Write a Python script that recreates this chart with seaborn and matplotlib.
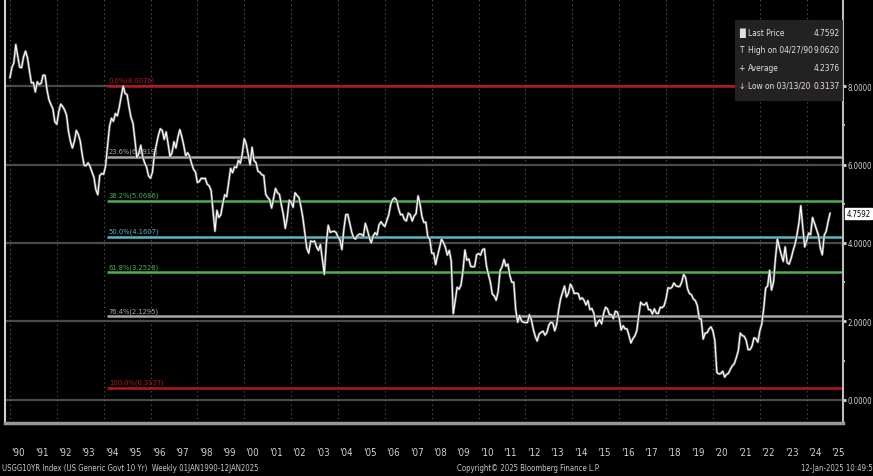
import matplotlib
matplotlib.use("Agg")
import matplotlib.pyplot as plt
import matplotlib.transforms as mtransforms
from matplotlib.patches import Rectangle
import seaborn as sns
import pandas as pd

sns.set_style("dark")
plt.rcParams['font.family'] = ['DejaVu Sans']
plt.rcParams['font.stretch'] = 'condensed'

# US Generic Govt 10 Yr, approx. monthly levels (Jan 1990 .. Jan 2025)
yields_10y = [
    8.21, 8.47, 8.59, 9.06, 8.76, 8.48, 8.47, 8.75, 8.89, 8.72, 8.39, 8.08,  # 1990
    8.09, 7.85, 8.11, 8.04, 8.07, 8.28, 8.27, 7.90, 7.65, 7.53, 7.42, 7.09,  # 1991
    7.03, 7.34, 7.54, 7.48, 7.39, 7.26, 6.84, 6.59, 6.42, 6.59, 6.87, 6.77,  # 1992
    6.60, 6.26, 5.98, 5.97, 6.04, 5.96, 5.81, 5.68, 5.36, 5.23, 5.72, 5.77,  # 1993
    5.75, 5.97, 6.48, 6.97, 7.18, 7.10, 7.30, 7.24, 7.46, 7.74, 8.00, 7.81,  # 1994
    7.78, 7.47, 7.20, 7.06, 6.63, 6.17, 6.28, 6.49, 6.20, 6.04, 5.93, 5.71,  # 1995
    5.65, 5.81, 6.27, 6.51, 6.74, 6.91, 6.87, 6.64, 6.83, 6.53, 6.20, 6.30,  # 1996
    6.58, 6.42, 6.69, 6.89, 6.71, 6.49, 6.22, 6.30, 6.21, 6.03, 5.88, 5.81,  # 1997
    5.54, 5.57, 5.65, 5.64, 5.65, 5.50, 5.46, 5.34, 4.81, 4.30, 4.83, 4.65,  # 1998
    4.72, 5.00, 5.23, 5.18, 5.54, 5.90, 5.79, 5.94, 5.92, 6.11, 6.03, 6.28,  # 1999
    6.66, 6.52, 6.26, 5.99, 6.44, 6.10, 6.05, 5.83, 5.80, 5.74, 5.72, 5.24,  # 2000
    5.16, 5.10, 4.89, 5.14, 5.39, 5.28, 5.24, 4.97, 4.73, 4.37, 4.65, 5.09,  # 2001
    5.04, 4.91, 5.28, 5.21, 5.16, 4.93, 4.65, 4.26, 3.87, 3.74, 4.05, 4.03,  # 2002
    4.05, 3.90, 3.81, 3.96, 3.57, 3.20, 3.98, 4.45, 4.27, 4.29, 4.30, 4.27,  # 2003
    4.15, 4.08, 3.83, 4.35, 4.72, 4.73, 4.50, 4.28, 4.13, 4.10, 4.19, 4.23,  # 2004
    4.22, 4.17, 4.50, 4.34, 4.14, 4.00, 4.18, 4.26, 4.20, 4.46, 4.54, 4.47,  # 2005
    4.42, 4.57, 4.72, 4.99, 5.11, 5.15, 5.09, 4.88, 4.72, 4.73, 4.60, 4.56,  # 2006
    4.76, 4.72, 4.56, 4.69, 4.75, 5.20, 5.00, 4.67, 4.52, 4.53, 4.15, 4.10,  # 2007
    3.74, 3.74, 3.45, 3.68, 3.88, 4.10, 4.01, 3.89, 3.69, 3.81, 3.53, 2.20,  # 2008
    2.52, 2.87, 2.82, 2.93, 3.29, 3.82, 3.56, 3.59, 3.40, 3.39, 3.40, 3.70,  # 2009
    3.73, 3.69, 3.83, 3.85, 3.42, 3.20, 3.01, 2.70, 2.65, 2.54, 2.76, 3.29,  # 2010
    3.39, 3.58, 3.41, 3.46, 3.17, 3.00, 3.00, 2.30, 1.98, 2.15, 2.01, 1.98,  # 2011
    1.97, 1.97, 2.17, 2.05, 1.80, 1.62, 1.50, 1.68, 1.72, 1.75, 1.65, 1.72,  # 2012
    1.91, 1.98, 1.96, 1.76, 1.93, 2.30, 2.58, 2.74, 2.90, 2.62, 2.72, 2.95,  # 2013
    2.86, 2.71, 2.72, 2.71, 2.56, 2.60, 2.54, 2.42, 2.53, 2.30, 2.33, 2.21,  # 2014
    1.88, 1.98, 2.04, 1.94, 2.20, 2.36, 2.32, 2.17, 2.17, 2.07, 2.26, 2.24,  # 2015
    2.09, 1.78, 1.89, 1.81, 1.81, 1.64, 1.45, 1.56, 1.63, 1.76, 2.14, 2.49,  # 2016
    2.43, 2.42, 2.48, 2.30, 2.30, 2.19, 2.32, 2.21, 2.20, 2.36, 2.35, 2.40,  # 2017
    2.58, 2.86, 2.84, 2.87, 2.98, 2.91, 2.89, 2.89, 3.00, 3.20, 3.12, 2.83,  # 2018
    2.71, 2.68, 2.57, 2.53, 2.40, 2.07, 2.06, 1.55, 1.70, 1.71, 1.81, 1.86,  # 2019
    1.76, 1.50, 0.70, 0.66, 0.67, 0.73, 0.58, 0.65, 0.68, 0.79, 0.87, 0.93,  # 2020
    1.08, 1.26, 1.70, 1.64, 1.62, 1.52, 1.28, 1.28, 1.37, 1.58, 1.56, 1.47,  # 2021
    1.76, 1.93, 2.33, 2.85, 2.90, 3.30, 2.80, 3.00, 3.60, 4.10, 3.89, 3.70,  # 2022
    3.53, 3.90, 3.50, 3.46, 3.60, 3.80, 3.96, 4.20, 4.50, 4.95, 4.40, 3.90,  # 2023
    4.06, 4.25, 4.21, 4.65, 4.50, 4.35, 4.20, 3.87, 3.70, 4.20, 4.30, 4.55,  # 2024
    4.76,                                                                    # 2025
]
months = pd.date_range("1990-01-01", periods=len(yields_10y), freq="MS")
dec_year = list(months.year + (months.month - 1) / 12)

year_labels = ["'" + f"{y % 100:02d}" for y in range(1990, 2026)]
year_starts = list(range(1990, 2026))

fib_names = ["0.0%", "23.6%", "38.2%", "50.0%", "61.8%", "76.4%", "100.0%"]
fib_levels = [8.0076, 6.1919, 5.0686, 4.1607, 3.2528, 2.1295, 0.3137]
fib_colors = ["#b3191c", "#a8a8a8", "#4fae4f", "#58b8c0", "#4fae4f", "#a8a8a8", "#b3191c"]

stat_names = ["Last Price", "High on 04/27/90", "Average", "Low on 03/13/20"]
stat_values = ["4.7592", "9.0620", "4.2376", "0.3137"]
stat_icons = ["\u2588", "T", "+", "\u2193"]
last_price = 4.7592

W, H = 873, 477
fig = plt.figure(figsize=(W / 100, H / 100), dpi=100, facecolor="black")
ax = fig.add_axes([5 / W, 53 / H, 838 / W, 424 / H])
ax.set_facecolor("black")

XMIN, XMAX = 1989.79, 2025.55
ax.set_xlim(XMIN, XMAX)
ax.set_ylim(-0.59, 10.22)

# grid
for yv in [0, 2, 4, 6, 8]:
    ax.axhline(yv, color="#4a4a4a", lw=1.6, zorder=1)
for yr in range(1990, 2026, 2):
    ax.axvline(yr, color="#5e5e5e", lw=0.8, ls=(0, (1, 3)), zorder=1)

# fibonacci retracement lines
for name, lvl, col in zip(fib_names, fib_levels, fib_colors):
    ax.hlines(lvl, 1994.15, XMAX, color=col, lw=1.8, zorder=2)
    ax.text(1994.22, lvl + 0.07, f"{name}({lvl:.4f})", color=col, fontsize=5.4,
            va="bottom", ha="left", zorder=3)

# price line
sns.lineplot(x=dec_year, y=yields_10y, ax=ax, color="#707070", lw=1.8, zorder=4)
sns.lineplot(x=dec_year, y=yields_10y, ax=ax, color="white", lw=0.8, zorder=5)
ax.set_xlabel("")
ax.set_ylabel("")

# axes / ticks
ax.spines["top"].set_visible(False)
ax.spines["right"].set_color("#bdbdbd")
ax.spines["right"].set_linewidth(1.5)
ax.spines["bottom"].set_color("#9a9a9a")
ax.spines["bottom"].set_linewidth(2.5)
ax.spines["left"].set_color("#d0d0d0")
ax.spines["left"].set_linewidth(1.5)

ax.yaxis.tick_right()
ax.set_yticks([0, 2, 4, 6, 8])
ax.set_yticklabels([f"{v:.4f}" for v in [0, 2, 4, 6, 8]])
ax.set_yticks([1, 3, 5, 7], minor=True)
ax.tick_params(axis="y", which="major", colors="#d8d8d8", labelsize=5.6, length=2.5, width=2, pad=1)
ax.tick_params(axis="y", which="minor", colors="#bbbbbb", length=1.5, width=1.5)

ax.set_xticks([y + 0.35 for y in year_starts])
ax.set_xticklabels(year_labels)
ax.set_xticks(year_starts, minor=True)
ax.tick_params(axis="x", which="major", colors="#d0d0d0", labelsize=7, length=0, pad=17)
ax.tick_params(axis="x", which="minor", color="#9a9a9a", length=12, width=1)
ax.grid(False)

# last price tag
trans = mtransforms.blended_transform_factory(ax.transAxes, ax.transData)
ax.text(1.004, last_price, f"{last_price:.4f}", transform=trans, fontsize=5.6, color="black",
        va="center", ha="left", clip_on=False,
        bbox=dict(boxstyle="square,pad=0.15", fc="white", ec="white"))

# stats box
ax.add_patch(Rectangle((0.871, 0.76), 0.129, 0.19, transform=ax.transAxes,
                       facecolor="#262626", edgecolor="none", alpha=0.9, zorder=6))
for i, (ic, nm, val) in enumerate(zip(stat_icons, stat_names, stat_values)):
    yy = 0.922 - i * 0.042
    ax.text(0.879, yy, ic, transform=ax.transAxes, color="#e0e0e0", fontsize=6,
            va="center", ha="center", zorder=7)
    ax.text(0.887, yy, nm, transform=ax.transAxes, color="#e0e0e0", fontsize=6,
            va="center", ha="left", zorder=7)
    ax.text(0.996, yy, val, transform=ax.transAxes, color="#e0e0e0", fontsize=6,
            va="center", ha="right", zorder=7)

# footer
fig.text(2 / W, 1 - 469 / H, "USGG10YR Index (US Generic Govt 10 Yr)  Weekly 01JAN1990-12JAN2025",
         color="#c8c8c8", fontsize=5.6, va="center", ha="left")
fig.text(528 / W, 1 - 469 / H, "Copyright\u00a9 2025 Bloomberg Finance L.P.",
         color="#c8c8c8", fontsize=5.6, va="center", ha="center")
fig.text(1.0, 1 - 469 / H, "12-Jan-2025 10:49:5", color="#c8c8c8", fontsize=5.6,
         va="center", ha="right")

fig.savefig("out.png", dpi=100, facecolor="black")
